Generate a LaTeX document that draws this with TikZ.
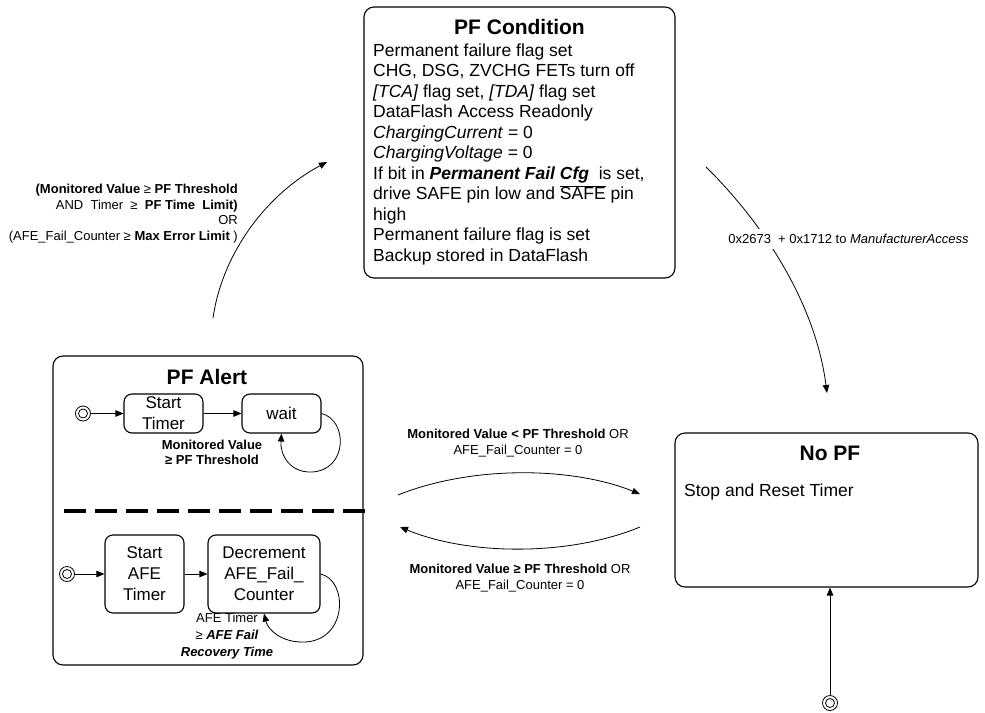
\documentclass[tikz,border=0pt]{standalone}
\usepackage{fontspec}
\setmainfont{Liberation Sans}
\usetikzlibrary{arrows.meta}
\begin{document}
\begin{tikzpicture}[x=1pt,y=-1pt,
  box/.style={draw, line width=1.1pt, rounded corners=10pt, inner sep=0pt},
  sbox/.style={draw, line width=1.1pt, rounded corners=8pt, inner sep=0pt, align=center, font=\fontsize{17}{21}\selectfont},
  init/.style={circle, draw, line width=0.8pt, minimum size=15pt, inner sep=0pt,
    path picture={\draw[line width=0.8pt] (path picture bounding box.center) circle (4.5pt);}},
  arr/.style={line width=0.8pt, -{Triangle[length=8pt,width=6.5pt]}},
  ttl/.style={font=\fontsize{21}{25}\selectfont\bfseries, inner sep=0pt},
  lbl/.style={font=\fontsize{13}{16}\selectfont, inner sep=0pt},
]
\useasboundingbox (0,0) rectangle (985,712);

% PF Condition
\node[box, minimum width=311pt, minimum height=271pt] (pfc) at (519.5,142.5) {};
\node[ttl] (pfct) at (519.5,27) {PF Condition};
\node[anchor=north west, inner sep=0pt, align=left, font=\fontsize{17.5}{20.5}\selectfont] (pfcb) at (373,43.5)
 {Permanent failure flag set\\
  CHG, DSG, ZVCHG FETs turn off\\
  \textit{[TCA]} flag set, \textit{[TDA]} flag set\\
  DataFlash Access Readonly\\
  \textit{ChargingCurrent} = 0\\
  \textit{ChargingVoltage} = 0\\
  If bit in \textbf{\textit{Permanent Fail Cfg}}\ \ is set,\\
  drive SAFE pin low and $\overline{\mbox{SAFE}}$ pin\\
  high\\
  Permanent failure flag is set\\
  Backup stored in DataFlash};

% PF Alert
\node[box, minimum width=310pt, minimum height=309pt] (pfa) at (208,510.5) {};
\node[ttl] (pfat) at (207,377) {PF Alert};
\node[init] (i1) at (83,413.5) {};
\node[sbox, minimum width=79pt, minimum height=39pt] (st) at (163.5,413.5) {Start\\Timer};
\node[sbox, minimum width=79pt, minimum height=39pt] (wt) at (281.5,413.5) {wait};
\draw[arr] (i1) -- (st);
\draw[arr] (st) -- (wt);
\draw[arr] (wt.east) .. controls (348,420) and (348,470) .. (312,472) .. controls (290,473) and (280,455) .. (wt.south);
\node[lbl, font=\fontsize{13}{15}\selectfont\bfseries, align=center] (wl) at (212,452.5) {Monitored Value\\≥ PF Threshold};

\coordinate (d1) at (64,511);
\coordinate (d2) at (367,511);
\draw[line width=4pt, dash pattern=on 22pt off 9pt] (d1) -- (d2);

\node[init] (i2) at (67,574) {};
\node[sbox, minimum width=79pt, minimum height=78pt] (sa) at (144.5,574) {Start\\AFE\\Timer};
\node[sbox, minimum width=112pt, minimum height=78pt] (dc) at (264,574) {Decrement\\AFE\_Fail\_\\Counter};
\draw[arr] (i2) -- (sa);
\draw[arr] (sa) -- (dc);
\draw[arr] (dc.east) .. controls (348,580) and (348,640) .. (305,642) .. controls (282,643) and (268,630) .. (dc.south);
\node[lbl, font=\fontsize{13}{17}\selectfont, align=center] (dl) at (227,636) {AFE Timer\\≥ \textbf{\textit{AFE Fail}}\\\textbf{\textit{Recovery Time}}};

% No PF
\node[box, minimum width=303pt, minimum height=154pt] (np) at (826.5,510) {};
\node[ttl] (npt) at (830,453) {No PF};
\node[anchor=west, inner sep=0pt, font=\fontsize{17.5}{21}\selectfont] (npb) at (684,492) {Stop and Reset Timer};
\node[init] (i3) at (830,703) {};
\draw[arr] (i3) -- (i3 |- np.south);

% PF Alert -> PF Condition
\coordinate (c1s) at (213,318);
\coordinate (c1e) at (327,162);
\draw[arr] (c1s) .. controls (222,255) and (265,195) .. (c1e);
\node[lbl, font=\fontsize{13}{15.5}\selectfont, anchor=east, align=right] (c1l) at (238,213.5)
 {\textbf{(Monitored Value} ≥ \textbf{PF Threshold}\\
  AND\ \ Timer\ \ ≥\ \ \textbf{PF Time\ \ Limit)}\\
  OR\\
  (AFE\_Fail\_Counter ≥ \textbf{Max Error Limit} )};

% PF Condition -> No PF
\coordinate (c2s) at (706,167);
\coordinate (c2e) at (827,393);
\draw[arr] (c2s) .. controls (760,220) and (815,300) .. (c2e);
\node[lbl, fill=white, inner xsep=2pt, inner ysep=5pt] (c2l) at (848.5,239) {0x2673\ \ + 0x1712 to \textit{ManufacturerAccess}};

% PF Alert <-> No PF
\coordinate (b1s) at (398,495);
\coordinate (b1e) at (640,494);
\draw[arr] (b1s) .. controls (470,466) and (570,466) .. (b1e);
\coordinate (b2s) at (640,527);
\coordinate (b2e) at (400,527);
\draw[arr] (b2s) .. controls (570,556) and (470,556) .. (b2e);
\node[lbl, align=center] (b1l) at (518,443) {\textbf{Monitored Value < PF Threshold} OR\\AFE\_Fail\_Counter = 0};
\node[lbl, align=center] (b2l) at (520,578) {\textbf{Monitored Value ≥ PF Threshold} OR\\AFE\_Fail\_Counter = 0};
\end{tikzpicture}
\end{document}
